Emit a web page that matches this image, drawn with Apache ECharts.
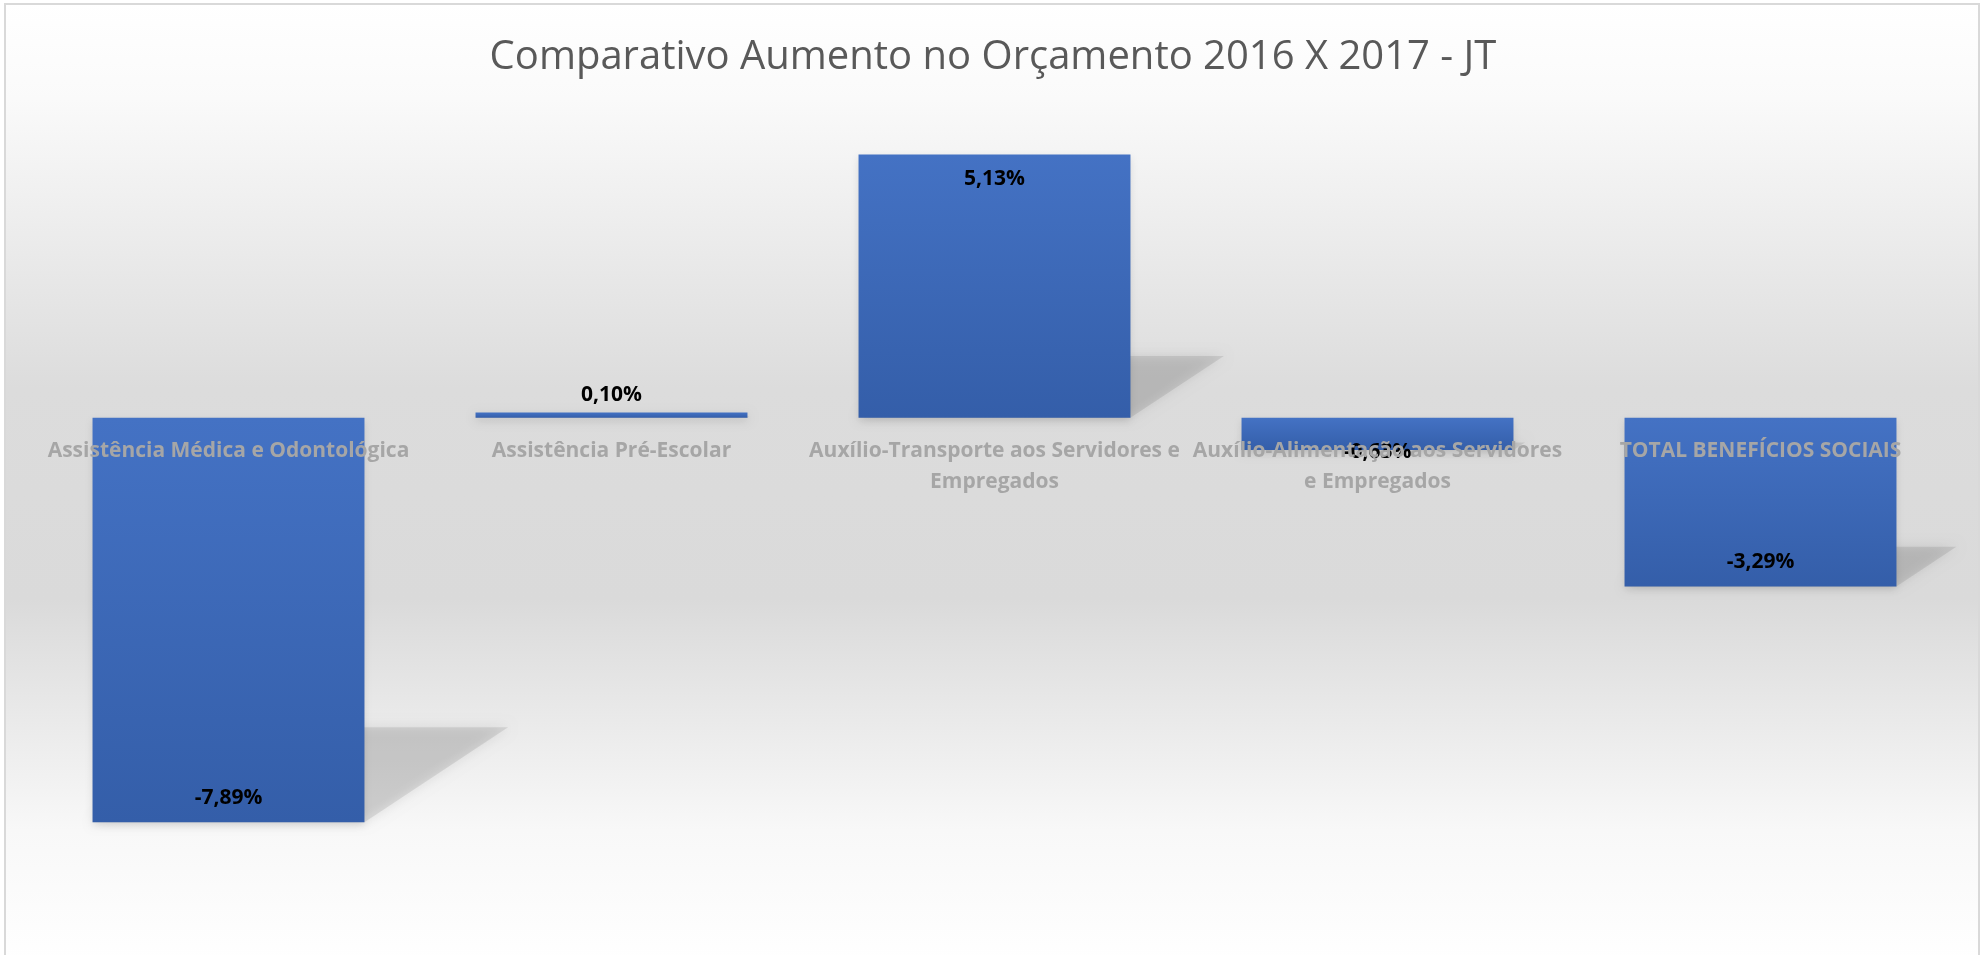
<!DOCTYPE html>
<html>
<head>
<meta charset="utf-8">
<script src="https://cdn.jsdelivr.net/npm/echarts@6/dist/echarts.min.js"></script>
<style>
  html, body { margin: 0; padding: 0; background: #ffffff; }
  #chart { width: 1986px; height: 955px; }
</style>
</head>
<body>
<div id="chart"></div>
<script>
// dados do gráfico
var titulo = 'Comparativo Aumento no Orçamento 2016 X 2017 - JT';
var categorias = [
    'Assistência Médica e Odontológica',
    'Assistência Pré-Escolar',
    'Auxílio-Transporte aos Servidores e\nEmpregados',
    'Auxílio-Alimentação aos Servidores\ne Empregados',
    'TOTAL BENEFÍCIOS SOCIAIS'
];
var variacao = [-7.89, 0.10, 5.13, -0.63, -3.29];
var yMin = -8, yMax = 6;

var chart = echarts.init(document.getElementById('chart'));

var fmt = function (v) {
    return v.toFixed(2).replace('.', ',') + '%';
};

// posição do rótulo de cada barra (como no Excel: extremidade interna)
var barData = variacao.map(function (v) {
    var pos = v < 0 ? 'insideBottom' : 'insideTop';
    var dist = 14;
    if (Math.abs(v) < 0.3) { pos = 'top'; dist = 7; }
    if (v < 0 && Math.abs(v) < 1) { pos = 'insideBottom'; dist = -12; }
    return { value: v, label: { position: pos, distance: dist } };
});

var gapRatio = 0.29;
var gridTop = 110, gridBottom = 127;
var gridH = 955 - gridTop - gridBottom;
// eixo de categorias sobre a linha do zero
var zeroOffset = -gridH * (0 - yMin) / (yMax - yMin);

option = {
    backgroundColor: '#ffffff',
    animation: false,
    graphic: [{
        type: 'rect',
        z: -10,
        silent: true,
        shape: { x: 5, y: 4, width: 1974, height: 960 },
        style: {
            fill: new echarts.graphic.LinearGradient(0, 0, 0, 1, [
                { offset: 0, color: '#ffffff' },
                { offset: 0.10, color: '#fafafa' },
                { offset: 0.25, color: '#ebebeb' },
                { offset: 0.40, color: '#dcdcdc' },
                { offset: 0.62, color: '#dadada' },
                { offset: 0.73, color: '#e8e8e8' },
                { offset: 0.86, color: '#f8f8f8' },
                { offset: 1, color: '#ffffff' }
            ]),
            stroke: '#d9d9d9',
            lineWidth: 2
        }
    }],
    title: {
        text: titulo,
        left: 'center',
        top: 33,
        textStyle: {
            fontFamily: 'Open Sans',
            fontWeight: 'normal',
            fontSize: 40,
            color: '#595959'
        }
    },
    grid: { left: 37, right: 34, top: gridTop, bottom: gridBottom },
    xAxis: {
        type: 'category',
        z: 10,
        data: categorias,
        offset: zeroOffset,
        axisLine: { show: false, onZero: false },
        axisTick: { show: false },
        axisLabel: {
            interval: 0,
            margin: 18,
            color: '#a6a6a6',
            fontFamily: 'Open Sans',
            fontWeight: 'bold',
            fontSize: 21,
            lineHeight: 31
        }
    },
    yAxis: {
        type: 'value',
        min: yMin,
        max: yMax,
        axisLine: { show: false },
        axisTick: { show: false },
        axisLabel: { show: false },
        splitLine: { show: false }
    },
    series: [{
        // sombra em perspectiva atrás das barras
        type: 'custom',
        z: 1,
        silent: true,
        data: variacao.map(function (v, i) { return [i, v]; }),
        renderItem: function (params, api) {
            var i = api.value(0), v = api.value(1);
            var band = api.size([1, 0])[0];
            var w = band * (1 - gapRatio);
            var p0 = api.coord([i, 0]);
            var p1 = api.coord([i, v]);
            var L = p0[0] - w / 2, R = p0[0] + w / 2;
            var B = Math.max(p0[1], p1[1]);
            var h = Math.abs(p1[1] - p0[1]);
            var dx = h * 0.355, dy = h * 0.235;
            return {
                type: 'polygon',
                shape: { points: [[L, B], [R, B], [R + dx, B - dy], [L + dx, B - dy]] },
                style: {
                    fill: 'rgba(0,0,0,0.09)',
                    shadowBlur: 12,
                    shadowColor: 'rgba(0,0,0,1)'
                }
            };
        }
    }, {
        type: 'bar',
        z: 3,
        data: barData,
        barCategoryGap: (gapRatio * 100) + '%',
        itemStyle: {
            color: new echarts.graphic.LinearGradient(0, 0, 0, 1, [
                { offset: 0, color: '#4472c4' },
                { offset: 1, color: '#345ea9' }
            ]),
            shadowBlur: 8,
            shadowOffsetY: 3,
            shadowColor: 'rgba(0,0,0,0.12)'
        },
        label: {
            show: true,
            color: '#000000',
            fontFamily: 'Open Sans',
            fontWeight: 'bold',
            fontSize: 21,
            formatter: function (p) { return fmt(p.value); }
        }
    }]
};

chart.setOption(option);
</script>
</body>
</html>
